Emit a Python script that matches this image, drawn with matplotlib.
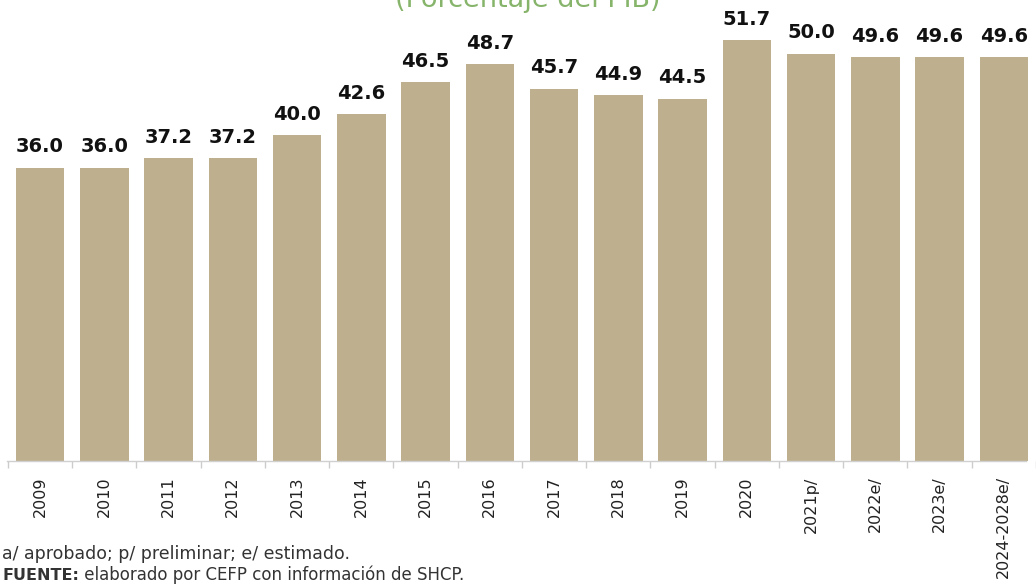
import matplotlib
matplotlib.use("Agg")
import matplotlib.pyplot as plt
import numpy as np

categories = ["2009", "2010", "2011", "2012", "2013", "2014", "2015", "2016",
              "2017", "2018", "2019", "2020", "2021p/", "2022e/", "2023e/", "2024-2028e/"]
values = [36.0, 36.0, 37.2, 37.2, 40.0, 42.6, 46.5, 48.7,
          45.7, 44.9, 44.5, 51.7, 50.0, 49.6, 49.6, 49.6]
title = "(Porcentaje del PIB)"
note1 = "a/ aprobado; p/ preliminar; e/ estimado."
note2_bold = "FUENTE:"
note2_rest = " elaborado por CEFP con información de SHCP."

fig = plt.figure(figsize=(10.36, 5.84), dpi=100)
ax = fig.add_axes([0.0, 123/584, 1.0, 461/584])

x = np.arange(len(categories))
ax.bar(x, values, width=0.755, color="#BEAF8E", zorder=2)
for xi, v in zip(x, values):
    ax.text(xi, v + 1.4, f"{v:.1f}", ha="center", va="bottom",
            fontsize=14, fontweight="bold", color="#111111", family="DejaVu Sans")

ax.set_xlim(-0.624, 15.34)
ax.set_ylim(0, 56.6)
ax.set_xticks(x)
ax.set_xticklabels(categories, rotation=90, fontsize=11.5, color="#222222", family="DejaVu Sans")
ax.set_xticks(np.arange(-0.5, len(categories), 1.0), minor=True)
ax.tick_params(axis="x", which="major", length=0, pad=11)
ax.tick_params(axis="x", which="minor", length=5, color="#cccccc", width=1)
ax.set_yticks([])
for s in ["top", "right", "left"]:
    ax.spines[s].set_visible(False)
ax.spines["bottom"].set_color("#d0d0d0")
ax.spines["bottom"].set_linewidth(1)
ax.spines["bottom"].set_bounds(-0.52, 15.34)

fig.text(0.509, 1 - 7/584, title, ha="center", va="baseline", fontsize=19.5, color="#86B46A")

fig.text(2/1036, 1 - 554/584, note1, ha="left", va="center", fontsize=12.5, color="#333333")
t = fig.text(2/1036, 1 - 575/584, note2_bold, ha="left", va="center", fontsize=11.5,
             color="#333333", fontweight="bold")
fig.canvas.draw()
bb = t.get_window_extent()
fig.text(bb.x1 / fig.bbox.width, 1 - 575/584, note2_rest, ha="left", va="center",
         fontsize=12, color="#333333")

fig.savefig("out.png", dpi=100)
